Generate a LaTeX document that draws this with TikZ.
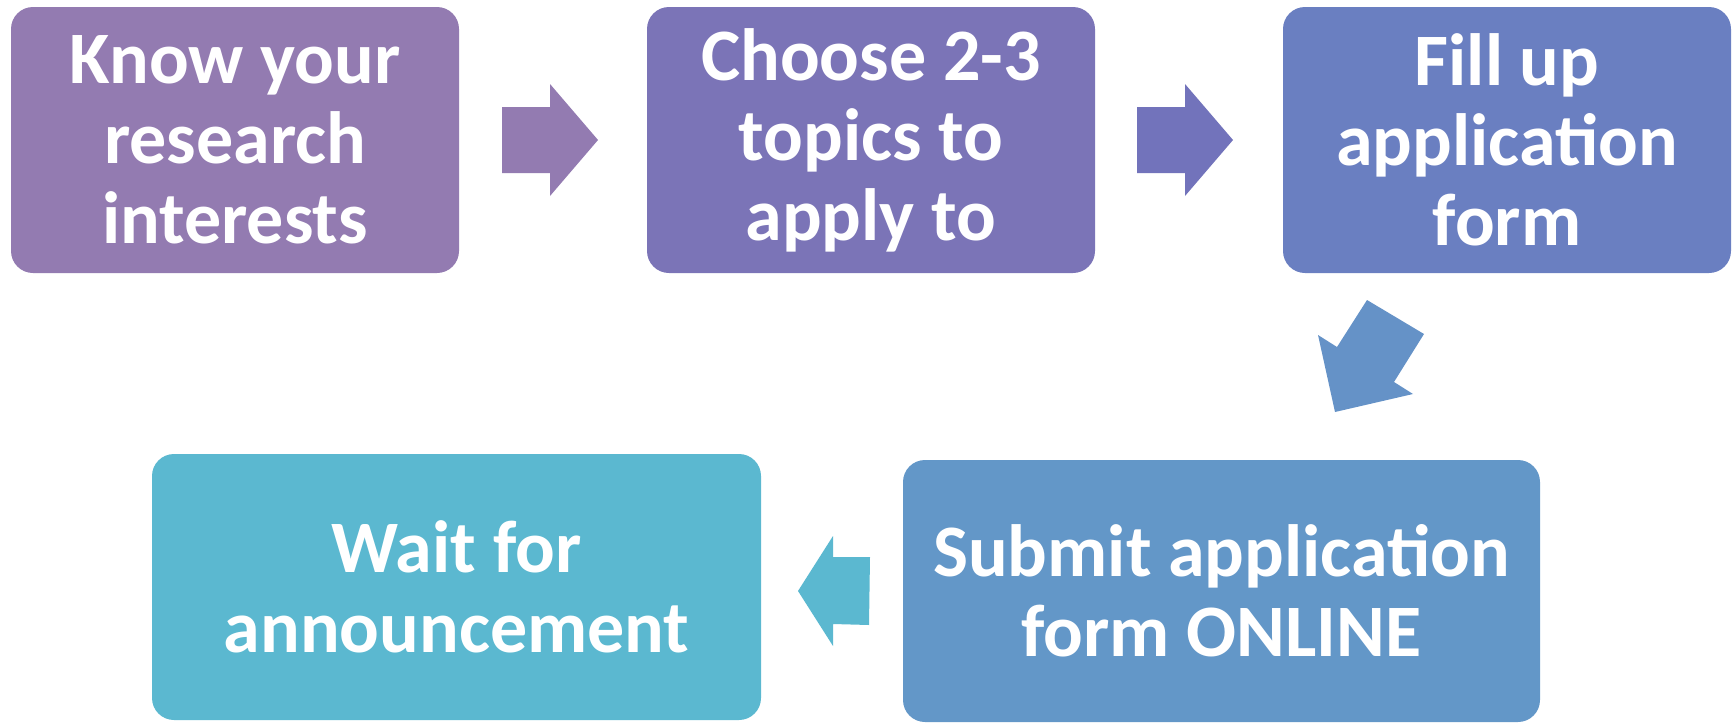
\documentclass[tikz,border=0pt]{standalone}
\usepackage{fontspec}
\setmainfont{Carlito}
\definecolor{cA}{RGB}{147,123,177}
\definecolor{cB}{RGB}{123,116,183}
\definecolor{cC}{RGB}{106,127,193}
\definecolor{cArr2}{RGB}{114,115,187}
\definecolor{cD}{RGB}{101,146,199}
\definecolor{cE}{RGB}{99,151,200}
\definecolor{cF}{RGB}{91,184,208}
\tikzset{
  stepbox/.style={rounded corners=22pt, inner sep=0pt, align=center, text=white,
    font=\fontsize{74}{80}\selectfont\bfseries},
  blockarrow/.style={draw=none}
}
\begin{document}
\begin{tikzpicture}[x=1pt,y=-1pt]
\useasboundingbox (0,0) rectangle (1735,723);
\node[stepbox, fill=cA, minimum width=448pt, minimum height=266pt] (b1) at (235,140) {Know your\\research\\interests};
\node[stepbox, fill=cB, minimum width=448pt, minimum height=266pt] (b2) at (871,140) {Choose 2-3\\topics to\\apply to};
\node[stepbox, fill=cC, minimum width=448pt, minimum height=266pt] (b3) at (1507,140) {Fill up\\application\\form};
\node[stepbox, fill=cE, minimum width=637pt, minimum height=262pt] (b5) at (1221.5,591) {Submit application\\form ONLINE};
\node[stepbox, fill=cF, minimum width=609pt, minimum height=266pt] (b4) at (456.5,587) {Wait for\\announcement};
% arrows
\fill[blockarrow, cA] (502,107) -- (550,107) -- (550,84) -- (598,140) -- (550,196) -- (550,173) -- (502,173) -- cycle;
\fill[blockarrow, cArr2] (1137,107) -- (1185,107) -- (1185,84) -- (1233,140) -- (1185,196) -- (1185,173) -- (1137,173) -- cycle;
\fill[blockarrow, cD] (1367,300) -- (1424,334) -- (1394,382) -- (1413,394) -- (1335,412) -- (1318,335) -- (1337,347) -- cycle;
\fill[blockarrow, cF] (870,557) -- (833,557) -- (833,536) -- (798,591) -- (833,646) -- (833,624) -- (869,625) -- cycle;
\end{tikzpicture}
\end{document}
